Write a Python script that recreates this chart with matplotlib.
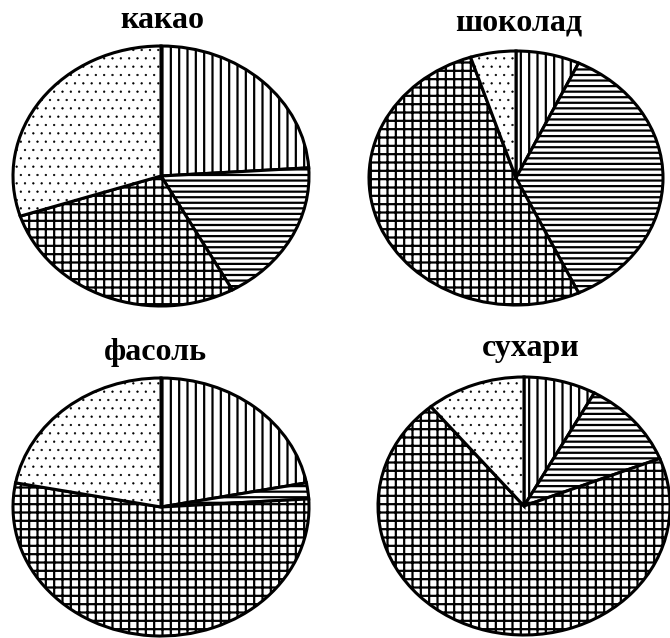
import matplotlib.pyplot as plt

plt.rcParams['hatch.linewidth'] = 1.6
plt.rcParams['hatch.color'] = 'black'

# содержание питательных веществ, %: белки, жиры, углеводы, прочее
products = ['какао', 'шоколад', 'фасоль', 'сухари']
kakao = [24, 18, 28, 30]
shokolad = [7, 36, 52, 5]
fasol = [22, 2, 54, 22]
sukhari = [8, 11, 70, 11]
hatches = ['||', '---', '++', '..']

W, H = 670, 638
# ellipse centre / radii and title position, in pixels
layout = [
    (161, 176, 148, 130, 162, 28),
    (516, 178, 147, 127, 519, 31),
    (161, 507, 148, 129, 155, 360),
    (524, 506, 146, 129, 531, 356),
]

fig = plt.figure(figsize=(W / 100, H / 100), dpi=100)

for name, vals, (cx, cy, rx, ry, tx, ty) in zip(products, [kakao, shokolad, fasol, sukhari], layout):
    ax = fig.add_axes([(cx - rx) / W, 1 - (cy + ry) / H, 2 * rx / W, 2 * ry / H])
    wedges, _ = ax.pie(vals, startangle=90, counterclock=False,
                       wedgeprops=dict(facecolor='white', edgecolor='black',
                                       linewidth=2.2, clip_on=False))
    for w, h in zip(wedges, hatches):
        w.set_hatch(h)
        # dots are small in the original
        if h == '..' and hasattr(w, 'set_hatch_linewidth'):
            w.set_hatch_linewidth(0.4)
    ax.set_aspect('auto')
    ax.set_xlim(-1, 1)
    ax.set_ylim(-1, 1)
    ax.axis('off')
    fig.text(tx / W, 1 - ty / H, name, ha='center', va='baseline',
             fontsize=23, fontweight='bold', family='Liberation Serif')

plt.savefig('out.png', dpi=100)
